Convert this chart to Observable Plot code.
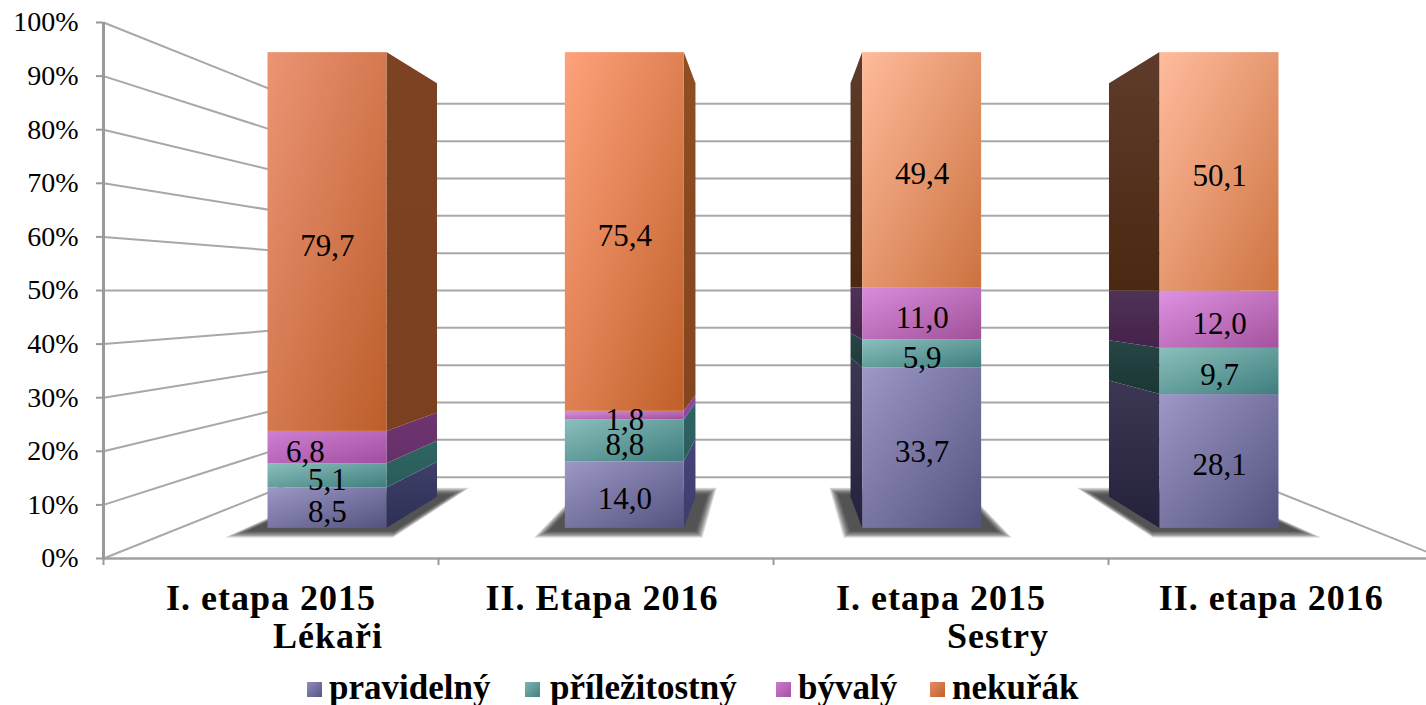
<!DOCTYPE html>
<html>
<head>
<meta charset="utf-8">
<script src="https://cdn.jsdelivr.net/npm/d3@7"></script>
<script src="https://cdn.jsdelivr.net/npm/@observablehq/plot@0.6"></script>
<style>
html,body{margin:0;padding:0;background:#fff;overflow:hidden}
#chart svg{display:block}
[aria-label="category"]{letter-spacing:1px}
#legend{position:relative;height:45px;width:1426px;font:bold 35px "Liberation Serif",serif;color:#000}
#legend .sw{position:absolute;top:22px;width:15px;height:15px}
#legend .tx{position:absolute;top:10px;white-space:nowrap;line-height:36px}
</style>
</head>
<body>
<div id="chart"></div>
<div id="legend"></div>
<script>
// --- data ---
const categories = ["I. etapa 2015", "II. Etapa 2016", "I. etapa 2015", "II. etapa 2016"];
const groups = ["Lékaři", "Sestry"];
const series = ["pravidelný", "příležitostný", "bývalý", "nekuřák"];
const pravidelny = [8.5, 14.0, 33.7, 28.1];
const prilezitostny = [5.1, 8.8, 5.9, 9.7];
const byvaly = [6.8, 1.8, 11.0, 12.0];
const nekurak = [79.7, 75.4, 49.4, 50.1];
const yTicks = [0, 10, 20, 30, 40, 50, 60, 70, 80, 90, 100];

// --- styles ---
const frontColors = [
  [["#9D98C6","#53527F"],["#9D98C6","#53527F"],["#9D98C6","#53527F"],["#9D98C6","#53527F"]],
  [["#8ABFBB","#3F7E7F"],["#8ABFBB","#3F7E7F"],["#8ABFBB","#3F7E7F"],["#8ABFBB","#3F7E7F"]],
  [["#CF80D4","#A14E9F"],["#D88DDC","#A05098"],["#D88DDC","#A05098"],["#DE92E2","#A4529C"]],
  [["#EC9475","#BC5E2A"],["#FFA27C","#BF6029"],["#FFBB9B","#CC7240"],["#FFBC9E","#CE7442"]]
];
const sideColors = [
  [["#3F3F68","#2D3056"],["#45457A","#3C3C6C"],["#3C3853","#24213C"],["#3C3853","#24213C"]],
  [["#2E6765","#2A5A5A"],["#2F6565","#2C5C5C"],["#264645","#1F3B3A"],["#264645","#1B3635"]],
  [["#6E3570","#66306A"],["#8A47A0","#8A47A0"],["#4F3258","#452548"],["#4F3258","#45224A"]],
  [["#7C4322","#7A4020"],["#8F4E22","#84451F"],["#5F3B2B","#4B2811"],["#5F3B2B","#4B2811"]]
];
const legendColors = [["#8F8BBC","#565585"],["#7FB5B2","#437F80"],["#C87CCB","#A5539F"],["#E58C62","#C0622F"]];
const legendX = [[307,329],[525,550],[776,798],[930,952]];
const categoryShift = [0, -0.012, 0, -0.014];

// --- perspective model: depth d scales a point about the centre of the wall frame ---
const depthFront = 0.8876, depthBack = 0.7715, depthWall = 0.6966;
const shadowNear = 0.912, shadowFar = 0.75;
const barHalf = 0.2, shadowHalf = 0.258;
const shadowSteps = [1, 0.75, 0.5, 0.25, 0, -0.25, -0.5, -0.75, -1]; // nested layers give the soft edge
const px = (u, d) => 2 + (u - 2) * d;
const py = (v, d) => 50 + (v - 50) * d;

const values = [pravidelny, prilezitostny, byvaly, nekurak];
const segments = [];
categories.forEach((c, b) => {
  const total = d3.sum(values, s => s[b]);
  let cum = 0;
  values.forEach((s, k) => {
    const v0 = cum / total * 100;
    cum += s[b];
    segments.push({b, k, value: s[b], v0, v1: cum / total * 100, c: b + 0.5});
  });
});
const fmt = v => v.toFixed(1).replace(".", ",");
const labelShift = d => (d.b === 0 && d.k === 2 ? -0.074 : 0);

function defs() {
  const g = d3.create("svg:defs");
  const add = (id, [a, e], x2, y2) => {
    const lg = g.append("linearGradient").attr("id", id)
      .attr("x1", 0).attr("y1", 0).attr("x2", x2).attr("y2", y2);
    lg.append("stop").attr("offset", 0).attr("stop-color", a);
    lg.append("stop").attr("offset", 1).attr("stop-color", e);
  };
  segments.forEach(s => {
    add(`f${s.b}${s.k}`, frontColors[s.k][s.b], 1, 1);
    add(`s${s.b}${s.k}`, sideColors[s.k][s.b], 0, 1);
  });
  return g.node();
}

const gridColor = "#A8A8A8";
const sideWall = yTicks.map(v => ({x1: px(0,1), y1: py(v,1), x2: px(0,depthWall), y2: py(v,depthWall)}));
const backWall = yTicks.map(v => ({x1: px(0,depthWall), y1: py(v,depthWall), x2: px(4,depthWall), y2: py(v,depthWall)}));
const floorEdge = [{x1: px(4,depthWall), y1: py(0,depthWall), x2: px(4,1), y2: py(0,1)}];

const shadows = categories.flatMap((_, b) => shadowSteps.map(t => Plot.area(
  [shadowFar - 0.012 * t, shadowNear + 0.012 * t].map(d => ({
    x1: px(b + 0.5 - shadowHalf - 0.014 * t, d), x2: px(b + 0.5 + shadowHalf + 0.014 * t, d), y: py(0, d)
  })),
  {x1: "x1", x2: "x2", y1: "y", y2: "y", fill: "#1c1c1c", fillOpacity: 0.14}
)));

const sides = segments.map(s => {
  const u = s.c + (s.b < 2 ? barHalf : -barHalf);
  return Plot.area(
    [depthBack, depthFront].map(d => ({x: px(u, d), y1: py(s.v0, d), y2: py(s.v1, d)})),
    {x1: "x", y1: "y1", y2: "y2", fill: `url(#s${s.b}${s.k})`}
  );
});

const plot = Plot.plot({
  width: 1426,
  height: 660,
  marginLeft: 103,
  marginTop: 22,
  marginRight: 0,
  marginBottom: 102,
  style: {background: "#fff", overflow: "hidden"},
  x: {domain: [0, 4], range: [103, 1443], axis: null},
  y: {domain: [0, 100], range: [558, 22], axis: null},
  color: {type: "identity"},
  marks: [
    defs,
    Plot.link(sideWall, {x1: "x1", y1: "y1", x2: "x2", y2: "y2", stroke: gridColor, strokeWidth: 2}),
    Plot.link(backWall, {x1: "x1", y1: "y1", x2: "x2", y2: "y2", stroke: gridColor, strokeWidth: 2}),
    Plot.link(floorEdge, {x1: "x1", y1: "y1", x2: "x2", y2: "y2", stroke: gridColor, strokeWidth: 2}),
    Plot.ruleY([0], {x1: 0, x2: 4, stroke: "#A0A0A0", strokeWidth: 2.5}),
    Plot.ruleX([0], {y1: 0, y2: 100, stroke: "#999", strokeWidth: 3}),
    Plot.axisY({
      ticks: yTicks, tickFormat: d => d + "%", tickSize: 7, tickPadding: 18,
      stroke: "#999", strokeWidth: 2, fill: "#000", label: null,
      fontFamily: "Liberation Serif", fontSize: 28
    }),
    Plot.axisX({
      ticks: [0, 1, 2, 3], tickFormat: () => "", tickSize: 7, stroke: "#999", strokeWidth: 2, label: null
    }),
    ...shadows,
    ...sides,
    Plot.rect(segments, {
      x1: d => px(d.c - barHalf, depthFront),
      x2: d => px(d.c + barHalf, depthFront),
      y1: d => py(d.v0, depthFront),
      y2: d => py(d.v1, depthFront),
      fill: d => `url(#f${d.b}${d.k})`
    }),
    Plot.text(segments, {
      x: d => px(d.c + labelShift(d), depthFront),
      y: d => py((d.v0 + d.v1) / 2, depthFront),
      text: d => fmt(d.value),
      dy: 4, fill: "#000",
      fontFamily: "Liberation Serif", fontSize: 31
    }),
    Plot.text(categories, {
      x: (d, i) => i + 0.5 + categoryShift[i], y: () => 0, text: d => d, dy: 40, fill: "#000", ariaLabel: () => "category",
      fontFamily: "Liberation Serif", fontWeight: "bold", fontSize: 36
    }),
    Plot.text(groups, {
      x: (d, i) => i * 2 + 0.67, y: () => 0, text: d => d, dy: 78, fill: "#000", ariaLabel: () => "category",
      fontFamily: "Liberation Serif", fontWeight: "bold", fontSize: 36
    })
  ]
});
document.getElementById("chart").append(plot);

const legend = d3.select("#legend");
series.forEach((s, i) => {
  legend.append("div").attr("class", "sw")
    .style("left", legendX[i][0] + "px")
    .style("background", `linear-gradient(135deg, ${legendColors[i][0]}, ${legendColors[i][1]})`);
  legend.append("div").attr("class", "tx")
    .style("left", legendX[i][1] + "px").text(s);
});
</script>
</body>
</html>
